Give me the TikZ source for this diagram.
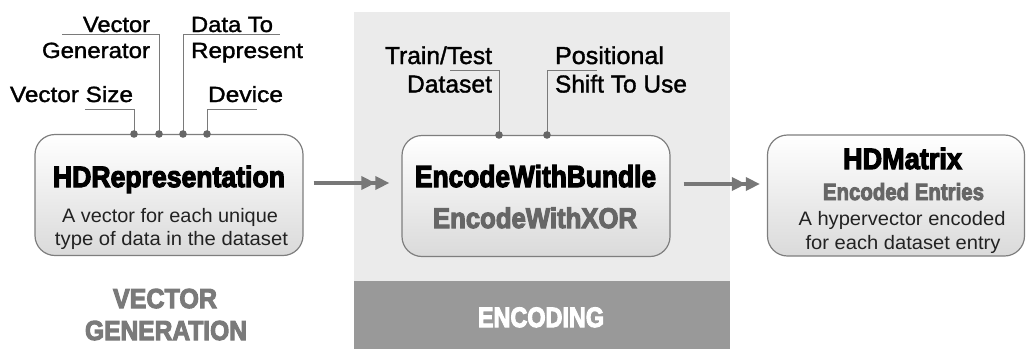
\documentclass[tikz,border=0pt]{standalone}
\usepackage{fontspec}
\usepackage{graphicx}
\setmainfont{Liberation Sans}
\newfontfamily\labelfont[FakeBold=1.4]{Liberation Sans}
\newfontfamily\headfont[BoldFeatures={FakeBold=4}]{Liberation Sans}
\usetikzlibrary{arrows.meta}

\definecolor{panel}{HTML}{EBEBEB}
\definecolor{band}{HTML}{999999}
\definecolor{boxline}{HTML}{7E7E7E}
\definecolor{boxbot}{HTML}{DADADA}
\definecolor{leader}{HTML}{7A7A7A}
\definecolor{pin}{HTML}{666666}
\definecolor{flowcol}{HTML}{777777}
\definecolor{subhead}{HTML}{666666}
\definecolor{stage}{HTML}{7A7A7A}
\definecolor{desc}{HTML}{222222}

% squeeze or widen a text to a given width, keeping its height
\newcommand\fitw[2]{\resizebox{#1pt}{\height}{#2}}

\begin{document}
\begin{tikzpicture}[x=1pt,y=-1pt,
  block/.style={draw=boxline, line width=1.2pt, rounded corners=20pt,
    top color=white, bottom color=boxbot, minimum height=121pt, inner sep=0pt},
  txt/.style={anchor=base, inner sep=0pt},
  lblA/.style={txt, font=\labelfont\fontsize{22}{22}\selectfont},
  lblB/.style={txt, font=\labelfont\fontsize{24.5}{24.5}\selectfont},
  head/.style={txt, font=\headfont\bfseries\fontsize{30.5}{30.5}\selectfont},
  subhd/.style={txt, text=subhead, font=\headfont\bfseries\fontsize{23.5}{23.5}\selectfont},
  dsc/.style={txt, text=desc, font=\fontsize{19.5}{19.5}\selectfont},
  stagehd/.style={txt, font=\headfont\bfseries\fontsize{27.5}{27.5}\selectfont},
  lead/.style={draw=leader, line width=0.9pt},
  pindot/.style={fill=pin},
  flow/.style={draw=flowcol, line width=3.4pt,
    -{Triangle[length=14pt,width=13pt]Triangle[length=14pt,width=13pt]}}
]
\useasboundingbox (0,0) rectangle (1026,349);

% encoding stage background
\fill[panel] (354,12) rectangle (730,349);
\fill[band] (354,281) rectangle (730,349);
\node[stagehd, text=white, font=\headfont\bfseries\fontsize{28}{28}\selectfont]
  (encStage) at (541,327) {\fitw{126}{ENCODING}};

% vector generation stage caption
\node[stagehd, text=stage] (vgA) at (165,308) {\fitw{104}{VECTOR}};
\node[stagehd, text=stage] (vgB) at (166,340) {\fitw{162}{GENERATION}};

% blocks
\node[block, minimum width=268pt] (hdr) at (169,195) {};
\node[block, minimum width=268pt] (enc) at (536,196) {};
\node[block, minimum width=257pt] (mat) at (896,195.5) {};

% block texts
\node[head, font=\headfont\bfseries\fontsize{29.5}{29.5}\selectfont]
  (hdrTitle) at (169,187) {\fitw{232}{HDRepresentation}};
\node[dsc] (hdrDescA) at (170,222) {\fitw{216}{A vector for each unique}};
\node[dsc] (hdrDescB) at (171.5,245) {\fitw{233}{type of data in the dataset}};

\node[head] (encTitle) at (535.5,187) {\fitw{241}{EncodeWithBundle}};
\node[head, text=subhead, font=\headfont\bfseries\fontsize{28.5}{28.5}\selectfont]
  (encAlt) at (535,228) {\fitw{204}{EncodeWithXOR}};

\node[head, font=\headfont\bfseries\fontsize{29.5}{29.5}\selectfont]
  (matTitle) at (902.5,169) {\fitw{119}{HDMatrix}};
\node[subhd] (matSub) at (903.5,200) {\fitw{161}{Encoded Entries}};
\node[dsc] (matDescA) at (902,225) {\fitw{207}{A hypervector encoded}};
\node[dsc] (matDescB) at (903,249) {\fitw{195}{for each dataset entry}};

% inputs of HDRepresentation
\node[lblA] (inSize) at (71.5,102) {\fitw{123}{Vector Size}};
\node[lblA] (inGenA) at (116.5,32) {\fitw{67}{Vector}};
\node[lblA] (inGenB) at (96,58) {\fitw{108}{Generator}};
\node[lblA] (inDataA) at (232,32) {\fitw{82}{Data To}};
\node[lblA] (inDataB) at (247,58) {\fitw{112}{Represent}};
\node[lblA] (inDev) at (245.5,102) {\fitw{75}{Device}};

\coordinate (pSize) at (134,134);
\coordinate (pGen) at (159,134);
\coordinate (pData) at (183,134);
\coordinate (pDev) at (207,134);
\coordinate (eSize) at (85,109);
\coordinate (eGen) at (62,34);
\coordinate (eData) at (280,34);
\coordinate (eDev) at (257,109);

\draw[lead] (pSize) |- (eSize);
\draw[lead] (pGen) |- (eGen);
\draw[lead] (pData) |- (eData);
\draw[lead] (pDev) |- (eDev);
\foreach \p in {pSize,pGen,pData,pDev} \fill[pindot] (\p) circle (3.8pt);

% inputs of the encoder
\node[lblB] (inSetA) at (438.5,64) {\fitw{107}{Train/Test}};
\node[lblB] (inSetB) at (449.5,92.5) {\fitw{85}{Dataset}};
\node[lblB] (inShiftA) at (609.5,64) {\fitw{109}{Positional}};
\node[lblB] (inShiftB) at (621,92.5) {\fitw{132}{Shift To Use}};

\coordinate (pSet) at (499,135);
\coordinate (pShift) at (547,135);
\coordinate (eSet) at (450,70);
\coordinate (eShift) at (597,70);

\draw[lead] (pSet) |- (eSet);
\draw[lead] (pShift) |- (eShift);
\foreach \p in {pSet,pShift} \fill[pindot] (\p) circle (3.8pt);

% data flow
\draw[flow, shorten <=10pt, shorten >=12pt]
  ([yshift=12pt]hdr.east) -- ([yshift=12pt]hdr.east -| enc.west);
\draw[flow, shorten <=13pt, shorten >=7pt]
  ([yshift=12pt]enc.east) -- ([yshift=12pt]enc.east -| mat.west);
\end{tikzpicture}
\end{document}
